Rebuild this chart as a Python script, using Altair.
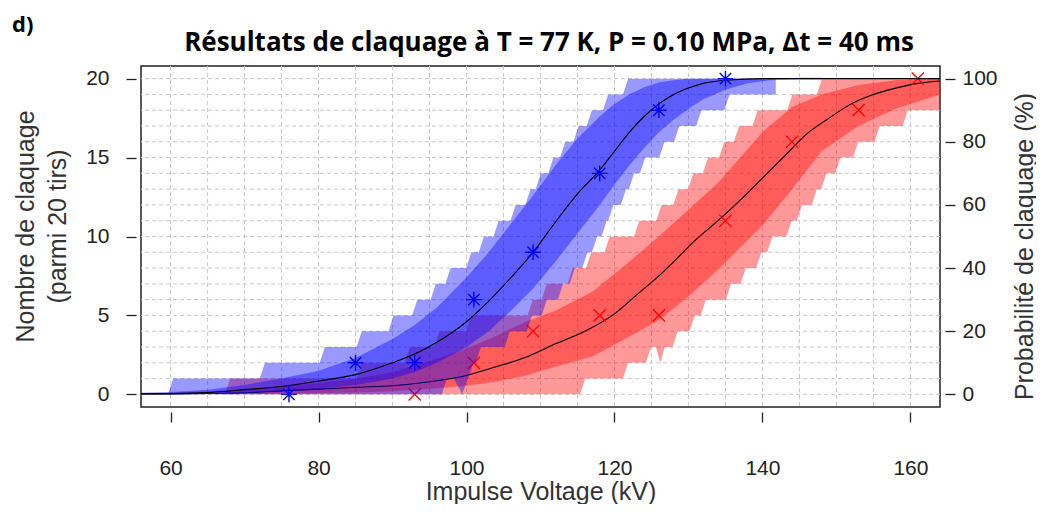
import altair as alt
import pandas as pd

# ---------------- data ----------------
# observed breakdown counts (out of 20 shots)
blue_v = [76, 85, 93, 101, 109, 118, 126, 135]
blue_n = [0, 2, 2, 6, 9, 14, 18, 20]
red_v = [93, 101, 109, 118, 126, 135, 144, 153, 161]
red_n = [0, 2, 4, 5, 5, 11, 16, 18, 20]

# fitted curves
blue_fit_x = [56, 60, 65, 70, 75, 80, 85, 90, 93, 96, 100, 103, 106, 109, 112, 115,
              118, 120, 122, 124, 126, 128, 130, 132, 135, 140, 164]
blue_fit_y = [0.03, 0.05, 0.12, 0.3, 0.5, 0.85, 1.25, 2.0, 2.55, 3.3, 4.6, 5.9, 7.4, 9.0,
              10.9, 12.7, 14.2, 15.4, 16.6, 17.6, 18.4, 19.0, 19.4, 19.7, 19.9, 20.0, 20.0]
red_fit_x = [56, 60, 70, 76, 80, 85, 90, 95, 100, 104, 108, 112, 116, 120, 123, 126, 128,
             131, 134, 137, 140, 143, 146, 149, 152, 155, 158, 161, 164]
red_fit_y = [0.02, 0.03, 0.1, 0.25, 0.33, 0.45, 0.55, 0.8, 1.2, 1.75, 2.35, 3.2, 4.0, 5.1,
             6.3, 7.5, 8.4, 9.8, 11.0, 12.3, 13.7, 15.1, 16.5, 17.5, 18.4, 19.0, 19.4, 19.7, 19.85]

# inner (dark) bands
blue_band_x = [56, 60, 65, 70, 75, 80, 85, 90, 93, 96, 100, 103, 106, 109, 112, 115, 118,
               120, 122, 124, 126, 128, 130, 132, 135, 138, 141, 145, 148]
blue_dark_hi = [0.1, 0.15, 0.3, 0.6, 1.0, 1.5, 2.3, 3.5, 4.4, 5.5, 7.4, 9.0, 10.8, 12.6,
                14.5, 16.2, 17.6, 18.4, 19.0, 19.45, 19.75, 19.9, 20.0, 20.0, 20.0, 20.0,
                20.0, 20.05, 20.05]
blue_dark_lo = [0.0, 0.0, 0.03, 0.1, 0.2, 0.35, 0.6, 1.0, 1.4, 2.0, 3.0, 4.0, 5.3, 6.7,
                8.4, 10.2, 12.0, 13.3, 14.5, 15.6, 16.6, 17.4, 18.1, 18.7, 19.3, 19.7,
                19.9, 19.95, 19.95]
red_band_x = [56, 60, 70, 80, 85, 90, 95, 100, 104, 108, 112, 117, 121, 126, 130, 134, 137,
              140, 144, 148, 153, 158, 162, 164]
red_dark_hi = [0.08, 0.1, 0.3, 0.7, 1.0, 1.4, 2.1, 2.9, 3.7, 4.6, 5.3, 6.5, 8.0, 10.0, 11.7,
               13.4, 15.0, 16.6, 18.2, 19.0, 19.6, 19.9, 20.0, 20.0]
red_dark_lo = [0.0, 0.0, 0.02, 0.08, 0.12, 0.2, 0.35, 0.55, 0.8, 1.2, 1.75, 2.4, 3.4, 4.7,
               6.2, 7.9, 9.3, 10.7, 13.0, 15.4, 17.0, 18.1, 18.7, 19.0]

# outer (light) bands: x where the upper edge steps up to 1,2,...,20
# and x where the lower edge steps up to 1,2,...
blue_up_steps = [60.0, 72.4, 80.5, 85.5, 89.8, 93.0, 95.5, 97.5, 100.3, 102.0, 104.0, 106.3,
                 108.3, 109.7, 111.4, 113.0, 114.8, 116.6, 118.8, 121.5]
blue_lo_steps = [97.0, 100.6, 101.6, 105.5, 108.5, 110.5, 112.7, 114.3, 116.0, 117.3, 118.6,
                 119.5, 121.2, 122.3, 123.8, 126.4, 128.4, 131.4, 135.2]
blue_end = 141.8
blue_notch = [(98.3, 1), (99.4, 0), (100.2, 1)]

red_up_steps = [67.7, 85.5, 92.0, 96.0, 100.3, 108.6, 110.5, 114.0, 116.5, 119.0, 123.0,
                126.0, 128.3, 130.3, 132.3, 134.5, 136.5, 139.0, 143.7, 147.7]
red_lo_steps = [115.7, 121.5, 124.6, 128.2, 130.5, 132.0, 135.4, 137.4, 139.5, 141.0, 143.6,
                145.0, 147.0, 148.3, 150.2, 152.6, 155.5, 159.3]
red_end = 164.0
red_notch = [(125.6, 3), (126.2, 2), (126.8, 3)]

x_ticks = [60, 80, 100, 120, 140, 160]
y_ticks = [0, 5, 10, 15, 20]
pct_ticks = [0, 20, 40, 60, 80, 100]
grid_x = list(range(60, 161, 5))
grid_y = list(range(0, 21))

TITLE = "Résultats de claquage à T = 77 K, P = 0.10 MPa, Δt = 40 ms"
PANEL = "d)"

# ---------------- build ----------------
RISER = 0.35


def band_polygon(up_steps, lo_steps, x_end, notch):
    pts = []
    for k, u in enumerate(up_steps, start=1):
        pts.append((u - RISER, k - 1))
        pts.append((u + RISER, k))
    top = len(up_steps)
    pts.append((x_end, top))
    m = len(lo_steps)
    lower = [(x_end, m)]
    for k, r in enumerate(lo_steps, start=1):
        lower.append((r + RISER, k))
        lower.append((r - RISER, k - 1))
    lower += list(notch)
    lower.sort(key=lambda p: -p[0])
    pts += lower
    return pd.DataFrame({"x": [p[0] for p in pts], "y": [p[1] for p in pts],
                         "i": list(range(len(pts)))})


FONT = "Liberation Sans, Arial, sans-serif"
TFONT = "Open Sans, Liberation Sans, sans-serif"
TXT = "#222222"

xs = alt.Scale(domain=[56, 164], nice=False, zero=False)
ys = alt.Scale(domain=[-0.8, 20.8], nice=False, zero=False)

x_axis = alt.Axis(values=x_ticks, title="Impulse Voltage (kV)", grid=False, domain=False,
                  offset=5, tickSize=10, tickColor=TXT, tickWidth=1.3,
                  labelFont=FONT, labelFontSize=21, labelColor=TXT, labelPadding=35,
                  titleFont=FONT, titleFontSize=25, titleFontWeight="normal",
                  titleColor="#333333", titlePadding=1)
y_axis = alt.Axis(values=y_ticks, title=["Nombre de claquage", "(parmi 20 tirs)"],
                  grid=False, domain=False, offset=5, tickSize=10, tickColor=TXT,
                  tickWidth=1.3, labelFont=FONT, labelFontSize=21, labelColor=TXT,
                  labelPadding=17, titleFont=FONT, titleFontSize=25,
                  titleFontWeight="normal", titleColor="#333333", titleAngle=270,
                  titleLineHeight=32, titleBaseline="middle", titleAlign="center",
                  titleX=-111, titleY=160)
r_axis = alt.Axis(values=pct_ticks, title="Probabilité de claquage (%)", orient="right",
                  grid=False, domain=False, offset=5, tickSize=10, tickColor=TXT,
                  tickWidth=1.3, labelFont=FONT, labelFontSize=21, labelColor=TXT,
                  labelPadding=7, titleFont=FONT, titleFontSize=25,
                  titleFontWeight="normal", titleColor="#333333", titleAngle=270,
                  titleBaseline="middle", titleAlign="center", titleX=79, titleY=180)

X = lambda f="x": alt.X(f"{f}:Q", scale=xs, axis=x_axis)
Y = lambda f="y": alt.Y(f"{f}:Q", scale=ys, axis=y_axis)

gx = alt.Chart(pd.DataFrame({"x": grid_x})).mark_rule(
    color="#c8c8c8", strokeDash=[4, 3], strokeWidth=1).encode(x=X())
gy = alt.Chart(pd.DataFrame({"y": grid_y})).mark_rule(
    color="#c8c8c8", strokeDash=[4, 3], strokeWidth=1).encode(y=Y())


def layers(color, up, lo, end, notch, bx, blo, bhi, fx, fy, px, py, shape, size, sw):
    poly = alt.Chart(band_polygon(up, lo, end, notch)).mark_line(
        fill=color, fillOpacity=0.4, strokeOpacity=0, interpolate="linear", clip=True
    ).encode(x=X(), y=Y(), order=alt.Order("i:Q"))
    dark = alt.Chart(pd.DataFrame({"x": bx, "lo": blo, "hi": bhi})).mark_area(
        color=color, opacity=0.4, clip=True
    ).encode(x=X(), y=Y("lo"), y2="hi:Q")
    fit = alt.Chart(pd.DataFrame({"x": fx, "y": fy})).mark_line(
        color="black", strokeWidth=1.1, interpolate="monotone", clip=True
    ).encode(x=X(), y=Y())
    pts = alt.Chart(pd.DataFrame({"x": px, "y": py})).mark_point(
        shape=shape, size=size, color=color, filled=False, strokeWidth=sw, opacity=1
    ).encode(x=X(), y=Y())
    return [poly, dark, fit, pts]


STAR = "M-1,0L1,0M0,-1L0,1M-0.72,-0.72L0.72,0.72M-0.72,0.72L0.72,-0.72"
CROSS = "M-1,-1L1,1M-1,1L1,-1"

red_layers = layers("#ff0000", red_up_steps, red_lo_steps, red_end, red_notch,
                    red_band_x, red_dark_lo, red_dark_hi, red_fit_x, red_fit_y,
                    red_v, red_n, CROSS, 150, 1.3)
blue_layers = layers("#0000ff", blue_up_steps, blue_lo_steps, blue_end, blue_notch,
                     blue_band_x, blue_dark_lo, blue_dark_hi, blue_fit_x, blue_fit_y,
                     blue_v, blue_n, STAR, 250, 1.4)

panel = alt.Chart(pd.DataFrame({"t": [PANEL]})).mark_text(
    font=TFONT, fontSize=22, fontWeight="bold", align="left", baseline="alphabetic",
    color="black"
).encode(text="t:N", x=alt.value(-129), y=alt.value(-34))

title = alt.Chart(pd.DataFrame({"t": [TITLE]})).mark_text(
    font=TFONT, fontSize=26, fontWeight="bold", align="center", baseline="alphabetic",
    color="black"
).encode(text="t:N", x=alt.value(408), y=alt.value(-15))

main = alt.layer(gx, gy, *red_layers, *blue_layers, panel, title)

right = alt.Chart(pd.DataFrame({"p": [0, 100]})).mark_point(opacity=0).encode(
    y=alt.Y("p:Q", scale=alt.Scale(domain=[-4, 104], nice=False, zero=False), axis=r_axis)
)

chart = alt.layer(main, right).resolve_scale(y="independent").properties(
    width=799, height=341,
    autosize=alt.AutoSizeParams(type="none"),
    padding={"left": 133, "top": 58, "right": 96, "bottom": 97},
).configure_view(stroke="#222222", strokeWidth=1.5)

chart.save("out.html", embed_options={"renderer": "svg", "actions": False})
